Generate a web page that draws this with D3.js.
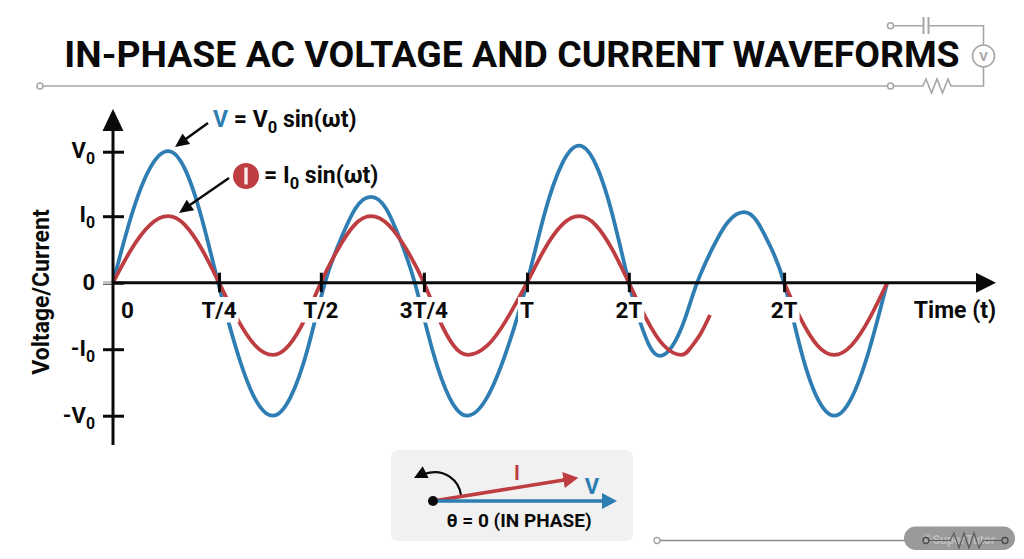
<!DOCTYPE html>
<html>
<head>
<meta charset="utf-8">
<script src="https://d3js.org/d3.v7.min.js"></script>
<style>
  html, body { margin: 0; padding: 0; background: #fff; }
  text { font-family: Roboto, sans-serif; font-weight: 700; fill: #0a0a0a; white-space: pre; }
</style>
</head>
<body>
<div id="chart"></div>
<script>
// values. time is in percent of T, amplitude in units of V0
var titleText = "IN-PHASE AC VOLTAGE AND CURRENT WAVEFORMS";

var xTickValues = [0, 25.6, 50.2, 75.1, 100, 124.6, 162.1];
var xTickLabels = ["0", "T/4", "T/2", "3T/4", "T", "2T", "2T"];
var yTickValues = [0.985, 0.5, 0, -0.5, -1];
var yTickNames = ["V", "I", "0", "-I", "-V"];
var yTickSubs = ["0", "0", "", "0", "0"];

var voltageT = [0, 4.4, 8.9, 13.3, 17.3, 21.3, 25.4, 29.8, 34.2, 38.6, 42.8, 47.0, 51.2,
  54.9, 58.6, 62.3, 65.9, 69.4, 72.9, 77.1, 81.3, 85.5, 90.3, 95.2, 100,
  104.2, 108.4, 112.6, 116.6, 120.6, 124.6, 127.1, 129.6, 132.2, 135.1, 138.1, 141.1,
  144.9, 148.6, 152.4, 155.6, 158.9, 162.1, 166.1, 170.1, 174.2, 178.4, 182.7, 187];
var voltageV = [0, 0.5, 0.86, 0.99, 0.86, 0.5, 0, -0.5, -0.866, -1, -0.866, -0.5, 0,
  0.32, 0.56, 0.645, 0.56, 0.32, 0, -0.5, -0.866, -1, -0.866, -0.5, 0,
  0.515, 0.89, 1.03, 0.89, 0.515, 0, -0.275, -0.476, -0.55, -0.476, -0.275, 0,
  0.265, 0.459, 0.53, 0.459, 0.265, 0, -0.5, -0.866, -1, -0.866, -0.5, 0];

var currentT = [0, 4.4, 8.9, 13.3, 17.4, 21.5, 25.6, 30, 34.3, 38.6, 42.5, 46.4, 50.2,
  54.3, 58.3, 62.3, 66.6, 70.9, 75.1, 78.7, 82.2, 85.7, 90.5, 95.2, 100,
  104.2, 108.4, 112.6, 116.6, 120.6, 124.6, 128.8, 133, 137.2, 139.5, 141.9, 144.2];
var currentI = [0, 0.25, 0.433, 0.5, 0.433, 0.25, 0, -0.27, -0.47, -0.543, -0.47, -0.27, 0,
  0.25, 0.433, 0.5, 0.433, 0.25, 0, -0.27, -0.47, -0.543, -0.47, -0.27, 0,
  0.25, 0.433, 0.5, 0.433, 0.25, 0, -0.27, -0.47, -0.543, -0.49, -0.385, -0.243];

var currentT2 = [162.1, 166.1, 170.1, 174.2, 178.4, 182.7, 187];
var currentI2 = [0, -0.27, -0.47, -0.543, -0.47, -0.27, 0];

// phasors, tip position relative to the length of V
var phasorI = [0.79, 0.127];
var phasorV = [1, 0];

var blue = "#2e7db3";
var red = "#bd3d41";
var grey = "#a6a6a6";

var svg = d3.select("#chart").append("svg")
  .attr("width", 1024)
  .attr("height", 559)
  .style("display", "block");

var x = d3.scaleLinear().domain([0, 100]).range([113, 527]);
var y = d3.scaleLinear().domain([-1, 1]).range([415.7, 149.7]);

// text with a subscript part
function rich(sel, parts, size) {
  parts.forEach(function(p) {
    var t = sel.append("tspan").text(p.text);
    if (p.color) t.style("fill", p.color);
    if (p.sub) {
      t.attr("dy", size * 0.27).style("font-size", (size * 0.72) + "px");
    } else if (p.back) {
      t.attr("dy", -size * 0.27);
    }
  });
}

function arrowHead(x1, y1, x2, y2, len, half, color) {
  var a = Math.atan2(y2 - y1, x2 - x1);
  var bx = x2 - len * Math.cos(a), by = y2 - len * Math.sin(a);
  var px = half * Math.sin(a), py = half * Math.cos(a);
  svg.append("path")
    .attr("d", `M${x2},${y2}L${bx + px},${by - py}L${bx - px},${by + py}Z`)
    .attr("fill", color);
}

// Title and circuit decoration
svg.append("text")
  .attr("x", 512).attr("y", 67)
  .attr("text-anchor", "middle")
  .style("font-size", "37.4px")
  .text(titleText);

var deco = svg.append("g").attr("fill", "none").attr("stroke", grey).attr("stroke-width", 1.6);
deco.append("path").attr("d", "M893.5,25.7H923.5M928.5,25.7H983.5V45M983.5,67V86H951L948,79L942.5,93L937,79L931.5,93L926,79L923,86H893.5M887.5,86H43");
deco.append("path").attr("d", "M923.5,17V34M928.5,17V34").attr("stroke-width", 2);
deco.append("circle").attr("cx", 890.5).attr("cy", 25.7).attr("r", 3);
deco.append("circle").attr("cx", 890.5).attr("cy", 86).attr("r", 3);
deco.append("circle").attr("cx", 40).attr("cy", 86).attr("r", 3);
deco.append("circle").attr("cx", 983.5).attr("cy", 56).attr("r", 11);
svg.append("text")
  .attr("x", 983.5).attr("y", 61)
  .attr("text-anchor", "middle")
  .style("font-size", "13px").style("fill", grey)
  .text("V");

// Waveforms
var line = d3.line()
  .x(function(d) { return x(d[0]); })
  .y(function(d) { return y(d[1]); })
  .curve(d3.curveNatural);

var waves = svg.append("g").attr("fill", "none").attr("stroke-width", 3.8);
waves.append("path").attr("stroke", blue).attr("d", line(d3.zip(voltageT, voltageV)));
waves.append("path").attr("stroke", red).attr("d", line(d3.zip(currentT, currentI)));
waves.append("path").attr("stroke", red).attr("d", line(d3.zip(currentT2, currentI2)));

// Axes
var yAxis = d3.axisLeft(y).tickValues(yTickValues).tickFormat("");
var yG = svg.append("g").attr("transform", `translate(${x(0)},0)`).call(yAxis);
yG.select(".domain").remove();
yG.selectAll(".tick line")
  .attr("x1", -10).attr("x2", 11)
  .attr("stroke", "#0a0a0a").attr("stroke-width", 3);

var xAxis = d3.axisBottom(x).tickValues(xTickValues.slice(1)).tickFormat("");
var xG = svg.append("g").attr("transform", `translate(0,${y(0)})`).call(xAxis);
xG.select(".domain").remove();
xG.selectAll(".tick line")
  .attr("y1", -10).attr("y2", 9.5)
  .attr("stroke", "#0a0a0a").attr("stroke-width", 3);

svg.append("line")
  .attr("x1", x(0) - 10).attr("x2", x(0))
  .attr("y1", y(0)).attr("y2", y(0))
  .attr("stroke", "#c4c4c4").attr("stroke-width", 3);
svg.append("line")
  .attr("x1", x(0)).attr("x2", 980)
  .attr("y1", y(0)).attr("y2", y(0))
  .attr("stroke", "#0a0a0a").attr("stroke-width", 3);
svg.append("line")
  .attr("x1", x(0)).attr("x2", x(0))
  .attr("y1", 445).attr("y2", 125)
  .attr("stroke", "#0a0a0a").attr("stroke-width", 3);
arrowHead(976, y(0), 996, y(0), 20, 10, "#0a0a0a");
arrowHead(x(0), 131, x(0), 109, 22, 10.5, "#0a0a0a");

// y tick labels, the upper two sit a little higher on their ticks
yTickValues.forEach(function(v, i) {
  var t = svg.append("text")
    .attr("x", 95).attr("y", y(v) + (i < 2 ? 6 : 7.2))
    .attr("text-anchor", "end")
    .style("font-size", "22px");
  rich(t, [{ text: yTickNames[i] }, { text: yTickSubs[i], sub: true }], 22);
});

// x tick labels sit on a white patch that cuts the curves
xTickValues.forEach(function(v, i) {
  var cx = i == 0 ? 127.5 : x(v);
  var g = svg.append("g");
  var t = g.append("text")
    .attr("x", cx).attr("y", 317.5)
    .attr("text-anchor", "middle")
    .style("font-size", "22.5px")
    .text(xTickLabels[i]);
  var b = t.node().getBBox();
  if (i > 0) {
    g.insert("rect", "text")
      .attr("x", b.x - 2).attr("width", b.width + 4)
      .attr("y", 297).attr("height", 25.5)
      .attr("fill", "#fff");
  }
});

svg.append("text")
  .attr("x", 955).attr("y", 317.5)
  .attr("text-anchor", "middle")
  .style("font-size", "23px")
  .text("Time (t)");

svg.append("text")
  .attr("transform", "translate(49,292) rotate(-90)")
  .attr("text-anchor", "middle")
  .style("font-size", "23px")
  .text("Voltage/Current");

// Formula labels
var vLabel = svg.append("text").attr("x", 213).attr("y", 126.5).style("font-size", "23px");
rich(vLabel, [
  { text: "V", color: blue },
  { text: " = V" },
  { text: "0", sub: true },
  { text: " sin(\u03c9t)", back: true }
], 23);

svg.append("circle").attr("cx", 246).attr("cy", 176).attr("r", 13).attr("fill", red);
svg.append("rect").attr("x", 244.3).attr("y", 167.5).attr("width", 3.4).attr("height", 17).attr("fill", "#fbeaea");

var iLabel = svg.append("text").attr("x", 264).attr("y", 183).style("font-size", "23px");
rich(iLabel, [
  { text: "= I" },
  { text: "0", sub: true },
  { text: " sin(\u03c9t)", back: true }
], 23);

svg.append("line").attr("x1", 208).attr("y1", 123).attr("x2", 183).attr("y2", 141)
  .attr("stroke", "#0a0a0a").attr("stroke-width", 2.5);
arrowHead(208, 123, 175, 147, 14, 6.5, "#0a0a0a");
svg.append("line").attr("x1", 229).attr("y1", 178).attr("x2", 187).attr("y2", 207)
  .attr("stroke", "#0a0a0a").attr("stroke-width", 2.5);
arrowHead(229, 178, 179, 213, 14, 6.5, "#0a0a0a");

// Phasor box
svg.append("rect")
  .attr("x", 391).attr("y", 450)
  .attr("width", 242).attr("height", 91)
  .attr("rx", 6)
  .attr("fill", "#f1f1f1");

var px = d3.scaleLinear().domain([0, 1]).range([433, 617]);
var py = d3.scaleLinear().domain([0, 1]).range([501, 317]);

svg.append("path")
  .attr("d", "M461,495C459,481 445,467 424,474")
  .attr("fill", "none").attr("stroke", "#0a0a0a").attr("stroke-width", 2.2);
arrowHead(430, 470, 414, 478, 13, 6.5, "#0a0a0a");

function phasor(tip, color, w) {
  var a = Math.atan2(py(tip[1]) - py(0), px(tip[0]) - px(0));
  svg.append("line")
    .attr("x1", px(0)).attr("y1", py(0))
    .attr("x2", px(tip[0]) - 10 * Math.cos(a)).attr("y2", py(tip[1]) - 10 * Math.sin(a))
    .attr("stroke", color).attr("stroke-width", w);
  arrowHead(px(0), py(0), px(tip[0]), py(tip[1]), 15, 8, color);
}
phasor(phasorI, red, 3.5);
phasor(phasorV, blue, 3.5);
svg.append("circle").attr("cx", px(0)).attr("cy", py(0)).attr("r", 5).attr("fill", "#0a0a0a");

svg.append("text").attr("x", 517).attr("y", 480).attr("text-anchor", "middle")
  .style("font-size", "20px").style("fill", red).text("I");
svg.append("text").attr("x", 592).attr("y", 493.5).attr("text-anchor", "middle")
  .style("font-size", "22px").style("fill", blue).text("V");
svg.append("text").attr("x", 519).attr("y", 527).attr("text-anchor", "middle")
  .style("font-size", "19px").text("\u03b8 = 0 (IN PHASE)");

// Bottom right corner
svg.append("circle").attr("cx", 657).attr("cy", 540.5).attr("r", 3)
  .attr("fill", "#fff").attr("stroke", grey).attr("stroke-width", 1.4);
svg.append("line").attr("x1", 660).attr("x2", 905).attr("y1", 540.5).attr("y2", 540.5)
  .attr("stroke", "#8c8c8c").attr("stroke-width", 1.4);
svg.append("rect").attr("x", 904).attr("y", 526.5).attr("width", 111).attr("height", 23.5)
  .attr("rx", 11.7).attr("fill", "#9a9a9a");
svg.append("text").attr("x", 959).attr("y", 544).attr("text-anchor", "middle")
  .style("font-size", "12.5px").style("fill", "#bdbdbd").text("\u00a9SuperTutor");
svg.append("path")
  .attr("d", "M929,540.5H950L954,533L959,548L964,533L969,548L974,533L979,548L983,540.5H1002")
  .attr("fill", "none").attr("stroke", "#5c5c5c").attr("stroke-width", 1.2);
svg.selectAll(".pin").data([926, 1005]).enter().append("circle")
  .attr("cx", function(d) { return d; }).attr("cy", 540.5).attr("r", 3)
  .attr("fill", "none").attr("stroke", "#4d4d4d").attr("stroke-width", 1.4);
</script>
</body>
</html>
